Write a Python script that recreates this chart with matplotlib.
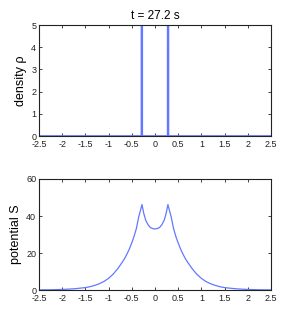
import numpy as np
import matplotlib.pyplot as plt

# density rho: two narrow spikes (clipped by the y limit)
x_rho = [-2.5, -0.29, -0.285, -0.28, -0.275, 0.275, 0.28, 0.285, 0.29, 2.5]
rho = [0, 0, 60, 60, 0, 0, 60, 60, 0, 0]

# potential S (symmetric around 0)
x_half = [0, 0.05, 0.1, 0.15, 0.2, 0.24, 0.28, 0.3, 0.35, 0.4, 0.45, 0.5, 0.55, 0.6,
          0.65, 0.7, 0.8, 0.9, 1.0, 1.1, 1.2, 1.3, 1.4, 1.5, 1.75, 2.0, 2.25, 2.5]
s_half = [33, 33.2, 33.8, 35.3, 37.8, 41.3, 46.2, 44.2, 39.5, 33.3, 29, 25.5, 22.3, 19.6,
          17.2, 15.2, 11.6, 8.6, 6.3, 4.6, 3.4, 2.5, 1.8, 1.3, 0.65, 0.3, 0.15, 0.07]
x_S = [-v for v in x_half[:0:-1]] + x_half
S = s_half[:0:-1] + s_half

title = "t = 27.2 s"
xticks = [-2.5, -2, -1.5, -1, -0.5, 0, 0.5, 1, 1.5, 2, 2.5]
xlabels = ["-2.5", "-2", "-1.5", "-1", "-0.5", "0", "0.5", "1", "1.5", "2", "2.5"]

fam = ['Liberation Sans Narrow', 'Liberation Sans', 'DejaVu Sans']
plt.rcParams['font.family'] = fam
col = '#6478ff'

fig = plt.figure(figsize=(3.0, 3.27), dpi=100)
ax1 = fig.add_axes([0.13, 0.584, 0.773, 0.3395])
ax2 = fig.add_axes([0.13, 0.1131, 0.773, 0.3395])

ax1.plot(x_rho, rho, color=col, lw=1.3)
ax1.set_ylim(0, 5)
ax1.set_yticks([0, 1, 2, 3, 4, 5])
ax1.set_ylabel("density ρ", fontsize=9, labelpad=3)
ax1.set_title(title, fontsize=8.5, pad=4)

ax2.plot(x_S, S, color=col, lw=0.9)
ax2.set_ylim(0, 60)
ax2.set_yticks([0, 20, 40, 60])
ax2.set_ylabel("potential S", fontsize=9, labelpad=3)

for ax in (ax1, ax2):
    ax.set_xlim(-2.5, 2.5)
    ax.set_xticks(xticks)
    ax.set_xticklabels(xlabels)
    ax.tick_params(direction='in', top=True, right=True, length=2.5, width=0.6,
                   labelsize=6.5, colors='#222222')
    ax.tick_params(axis='x', pad=3)
    ax.tick_params(axis='y', pad=2)
    for sp in ax.spines.values():
        sp.set_linewidth(0.8)
        sp.set_color('#222222')

fig.savefig("out.png", dpi=100)
